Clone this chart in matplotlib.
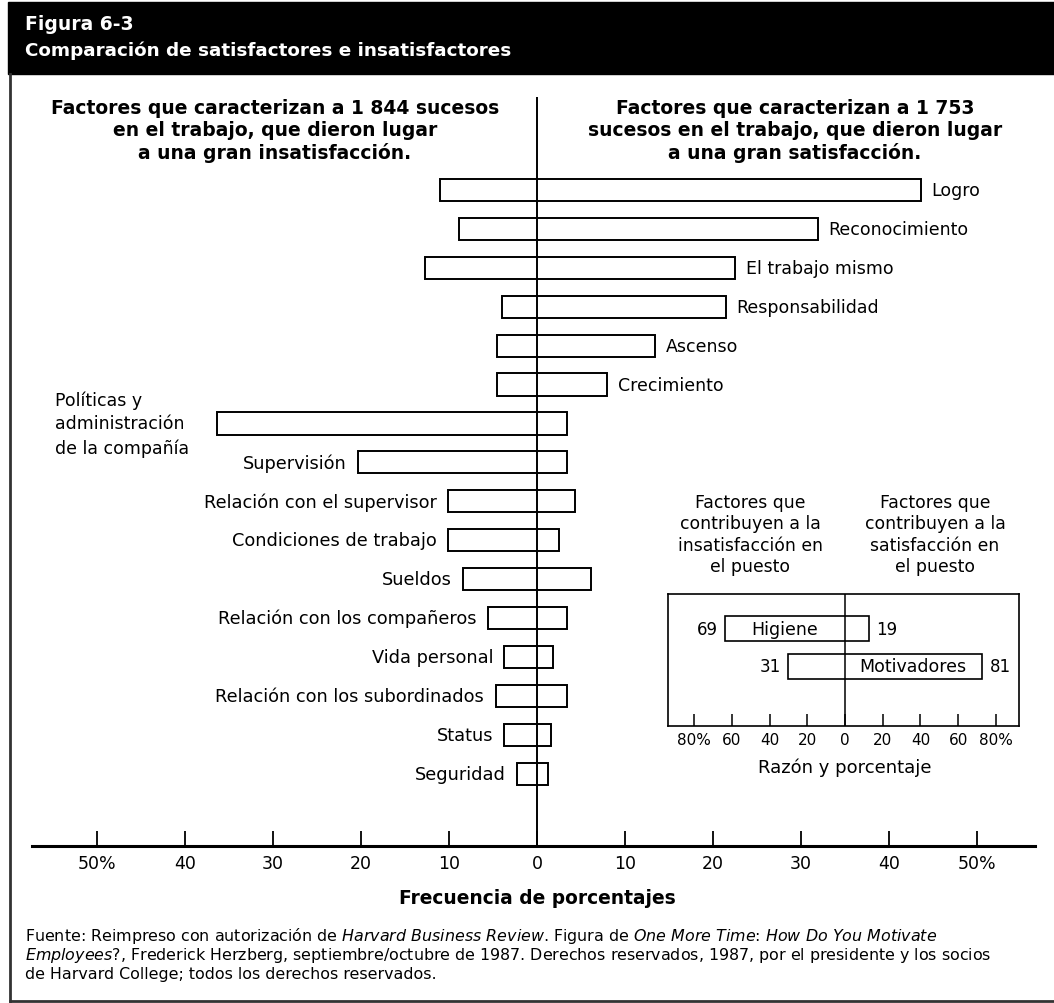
import matplotlib
matplotlib.use("Agg")
import matplotlib.pyplot as plt
from matplotlib.patches import Rectangle
from matplotlib.lines import Line2D

## Fonts
plt.rcParams['font.family'] = ['DejaVu Sans']
plt.rcParams['mathtext.fontset'] = 'custom'
plt.rcParams['mathtext.rm'] = 'DejaVu Sans'
plt.rcParams['mathtext.it'] = 'DejaVu Sans:italic'

## Data (percent of events)
factors = ['Logro', 'Reconocimiento', 'El trabajo mismo', 'Responsabilidad',
           'Ascenso', 'Crecimiento',
           'Políticas y\nadministración\nde la compañía', 'Supervisión',
           'Relación con el supervisor', 'Condiciones de trabajo', 'Sueldos',
           'Relación con los compañeros', 'Vida personal',
           'Relación con los subordinados', 'Status', 'Seguridad']
dissat = [11.0, 8.9, 12.7, 4.0, 4.5, 4.5, 36.4, 20.3, 10.1, 10.1, 8.4,
          5.6, 3.7, 4.7, 3.7, 2.3]
sat = [43.6, 31.9, 22.5, 21.5, 13.4, 8.0, 3.4, 3.4, 4.3, 2.5, 6.1,
       3.4, 1.8, 3.4, 1.6, 1.3]
n_motivators = 6

main_ticks = [-50, -40, -30, -20, -10, 0, 10, 20, 30, 40, 50]
main_ticklabels = ['50%', '40', '30', '20', '10', '0', '10', '20', '30', '40', '50%']

## Inset: ratio and percent
groups = ['Higiene', 'Motivadores']
group_left = [63.6, 30.2]
group_right = [12.7, 72.6]
group_left_lbl = ['69', '31']
group_right_lbl = ['19', '81']
inset_ticks = [-80, -60, -40, -20, 0, 20, 40, 60, 80]
inset_ticklabels = ['80%', '60', '40', '20', '0', '20', '40', '60', '80%']

W, H = 1054, 1004
fig = plt.figure(figsize=(W / 100, H / 100), dpi=100)


def px(x, y):
    return x / W, 1 - y / H


## Frame and header band
fig.patches.append(Rectangle(px(8, 75), 1 - 8 / W, 72 / H, transform=fig.transFigure,
                             color='black', zorder=0))
fig.lines.append(Line2D([10 / W, 10 / W], [1 - 75 / H, 1 - 1002 / H],
                        transform=fig.transFigure, color='#333333', lw=2))
fig.lines.append(Line2D([10 / W, 1], [1 - 1002 / H, 1 - 1002 / H],
                        transform=fig.transFigure, color='#333333', lw=2))
fig.text(*px(25, 25), 'Figura 6-3', color='white', fontsize=13.5, fontweight='bold',
         ha='left', va='center')
fig.text(*px(25, 51), 'Comparación de satisfactores e insatisfactores', color='white',
         fontsize=13.2, fontweight='bold', ha='left', va='center')

## Main chart
ax = fig.add_axes([32 / W, 1 - 847 / H, 1003 / W, (847 - 98) / H])
ax.patch.set_alpha(0)
ax.set_xlim(-57.4, 56.6)
ax.set_ylim(16.86, -2.39)

rows = list(range(len(factors)))
ax.barh(rows, [d + s for d, s in zip(dissat, sat)], left=[-d for d in dissat],
        height=0.57, color='white', edgecolor='black', linewidth=1.4, zorder=2)
ax.axvline(0, color='black', lw=1.4, zorder=3)

for i, name in enumerate(factors):
    if i < n_motivators:
        ax.text(sat[i] + 1.2, i, name, ha='left', va='center', fontsize=12.5)
    elif '\n' in name:
        ax.text(-54.8, i, name, ha='left', va='center', fontsize=12.5, linespacing=1.4)
    else:
        ax.text(-dissat[i] - 1.3, i, name, ha='right', va='center', fontsize=12.8)

for s in ['top', 'left', 'right']:
    ax.spines[s].set_visible(False)
ax.spines['bottom'].set_linewidth(2.2)
ax.set_yticks([])
ax.set_xticks(main_ticks)
ax.set_xticklabels(main_ticklabels, fontsize=12.5)
ax.tick_params(axis='x', direction='in', length=11, width=1.3, pad=6)

fig.text(*px(275, 131), 'Factores que caracterizan a 1 844 sucesos\n'
         'en el trabajo, que dieron lugar\na una gran insatisfacción.',
         ha='center', va='center', fontsize=13.5, fontweight='bold', linespacing=1.2)
fig.text(*px(795, 131), 'Factores que caracterizan a 1 753\n'
         'sucesos en el trabajo, que dieron lugar\na una gran satisfacción.',
         ha='center', va='center', fontsize=13.5, fontweight='bold', linespacing=1.2)
fig.text(*px(537, 899), 'Frecuencia de porcentajes', ha='center', va='center',
         fontsize=13.4, fontweight='bold')

## Inset
ax2 = fig.add_axes([668 / W, 1 - 727 / H, 351 / W, 132 / H])
ax2.set_xlim(-93.8, 92.2)
ax2.set_ylim(2.57, -0.91)
ax2.barh([0, 1], [l + r for l, r in zip(group_left, group_right)],
         left=[-l for l in group_left], height=0.66, color='white',
         edgecolor='black', linewidth=1.2, zorder=2)
ax2.axvline(0, color='black', lw=1.1, zorder=3)
ax2.text(-31.8, 0, groups[0], ha='center', va='center', fontsize=12.5, zorder=4)
ax2.text(36, 1, groups[1], ha='center', va='center', fontsize=12.5, zorder=4)
for i in range(2):
    ax2.text(-group_left[i] - 4, i, group_left_lbl[i], ha='right', va='center', fontsize=12)
    ax2.text(group_right[i] + 4, i, group_right_lbl[i], ha='left', va='center', fontsize=12)
for s in ax2.spines.values():
    s.set_linewidth(1.2)
ax2.set_yticks([])
ax2.set_xticks(inset_ticks)
ax2.set_xticklabels(inset_ticklabels, fontsize=11)
ax2.tick_params(axis='x', direction='in', length=9, width=1.1, pad=4)
fig.text(*px(845, 768), 'Razón y porcentaje', ha='center', va='center', fontsize=13)

fig.text(*px(750, 535), 'Factores que\ncontribuyen a la\ninsatisfacción en\nel puesto',
         ha='center', va='center', fontsize=12.4, linespacing=1.25)
fig.text(*px(935, 535), 'Factores que\ncontribuyen a la\nsatisfacción en\nel puesto',
         ha='center', va='center', fontsize=12.4, linespacing=1.25)


## Source note
def it(s):
    return r'$\mathit{' + s.replace(' ', r'\ ') + '}$'


source_lines = [
    'Fuente: Reimpreso con autorización de ' + it('Harvard Business Review') +
    '. Figura de ' + it('One More Time') + ': ' + it('How Do You Motivate'),
    it('Employees?') + ', Frederick Herzberg, septiembre/octubre de 1987. Derechos '
    'reservados, 1987, por el presidente y los socios',
    'de Harvard College; todos los derechos reservados.',
]
for k, line in enumerate(source_lines):
    fig.text(*px(25, 936 + 19.5 * k), line, ha='left', va='center', fontsize=11.4)

fig.savefig('out.png', dpi=100, facecolor='white')
